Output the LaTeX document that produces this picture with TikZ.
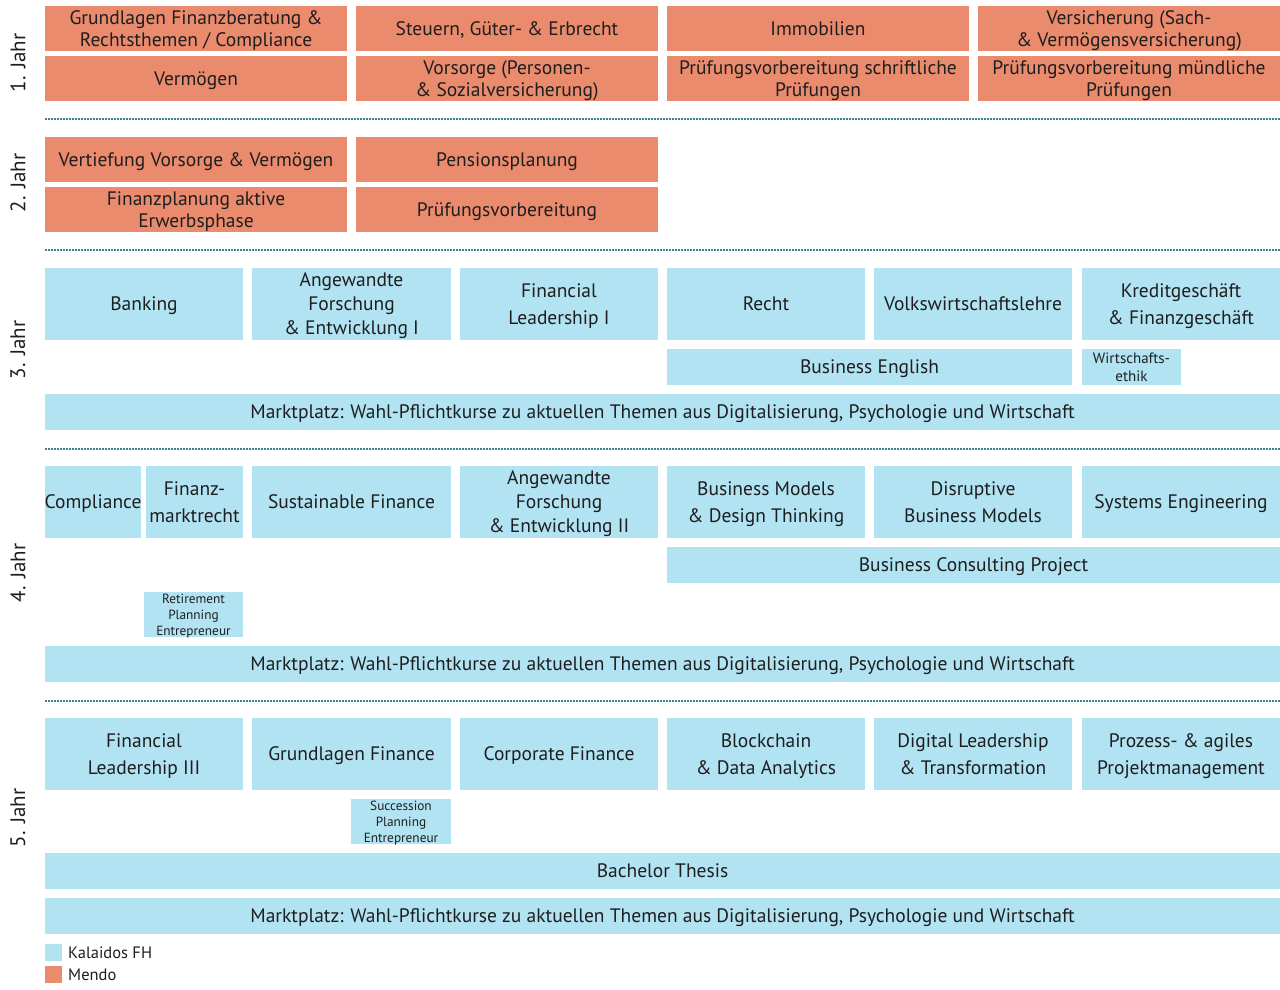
\documentclass[tikz,border=0pt]{standalone}
\usepackage{fontspec}
\setmainfont{PT Sans}
\definecolor{mendo}{HTML}{EB8B6E}
\definecolor{kal}{HTML}{B2E3F2}
\definecolor{dotc}{HTML}{3A8290}
\definecolor{txt}{HTML}{1E1E1E}
\tikzset{
  base/.style={inner sep=0pt, outer sep=0pt, align=center, text=txt, text depth=0pt},
  orange/.style={base, fill=mendo, font=\fontsize{19.5}{22.5}\selectfont},
  blue/.style={base, fill=kal, font=\fontsize{19.5}{26.5}\selectfont},
  bluethree/.style={base, fill=kal, font=\fontsize{19.5}{24}\selectfont},
  small/.style={base, fill=kal, font=\fontsize{13.3}{16}\selectfont},
  smalltwo/.style={base, fill=kal, font=\fontsize{15}{18}\selectfont},
  year/.style={rotate=90, text=txt, font=\fontsize{21}{22}\selectfont},
  sep/.style={dotc, line width=1.6pt, dash pattern=on 1.6pt off 1.4pt},
  legtext/.style={anchor=west, text=txt, inner sep=0pt, font=\fontsize{16.5}{18}\selectfont},
}
\newcommand\cbox[7]{\node[#6, minimum width={(#4-#2)*1pt}, minimum height={(#5-#3)*1pt}] (#1) at ({(#2+#4)/2},{(#3+#5)/2}) {#7};}
\begin{document}
\begin{tikzpicture}[x=1pt,y=-1pt]
\useasboundingbox (0,0) rectangle (1280,990);
% Year 1
\cbox{a1}{45}{6}{347}{51}{orange}{Grundlagen Finanzberatung \&\\Rechtsthemen / Compliance}
\cbox{a2}{356}{6}{658}{51}{orange}{Steuern, Güter- \& Erbrecht}
\cbox{a3}{667}{6}{969}{51}{orange}{Immobilien}
\cbox{a4}{978}{6}{1280}{51}{orange}{Versicherung (Sach-\\\& Vermögensversicherung)}
\cbox{b1}{45}{56}{347}{101}{orange}{Vermögen}
\cbox{b2}{356}{56}{658}{101}{orange}{Vorsorge (Personen-\\\& Sozialversicherung)}
\cbox{b3}{667}{56}{969}{101}{orange}{Prüfungsvorbereitung schriftliche\\Prüfungen}
\cbox{b4}{978}{56}{1280}{101}{orange}{Prüfungsvorbereitung mündliche\\Prüfungen}
\node[year] (y1) at (18,63) {1. Jahr};
\coordinate (s1a) at (45,119); \coordinate (s1b) at (1280,119);
\draw[sep] (s1a) -- (s1b);
% Year 2
\cbox{c1}{45}{137}{347}{182}{orange}{Vertiefung Vorsorge \& Vermögen}
\cbox{c2}{356}{137}{658}{182}{orange}{Pensionsplanung}
\cbox{d1}{45}{187}{347}{232}{orange}{Finanzplanung aktive\\Erwerbsphase}
\cbox{d2}{356}{187}{658}{232}{orange}{Prüfungsvorbereitung}
\node[year] (y2) at (18,183) {2. Jahr};
\coordinate (s2a) at (45,250); \coordinate (s2b) at (1280,250);
\draw[sep] (s2a) -- (s2b);
% Year 3
\cbox{e1}{45}{268}{243}{340}{blue}{Banking}
\cbox{e2}{252}{268}{451}{340}{bluethree}{Angewandte\\Forschung\\\& Entwicklung I}
\cbox{e3}{460}{268}{658}{340}{blue}{Financial\\Leadership I}
\cbox{e4}{667}{268}{865}{340}{blue}{Recht}
\cbox{e5}{874}{268}{1072}{340}{blue}{Volkswirtschaftslehre}
\cbox{e6}{1082}{268}{1280}{340}{blue}{Kreditgeschäft\\\& Finanzgeschäft}
\cbox{f1}{667}{349}{1072}{385}{blue}{Business English}
\cbox{f2}{1082}{349}{1181}{385}{smalltwo}{Wirtschafts-\\ethik}
\cbox{g1}{45}{394}{1280}{430}{blue}{Marktplatz: Wahl-Pflichtkurse zu aktuellen Themen aus Digitalisierung, Psychologie und Wirtschaft}
\node[year] (y3) at (18,350) {3. Jahr};
\coordinate (s3a) at (45,449); \coordinate (s3b) at (1280,449);
\draw[sep] (s3a) -- (s3b);
% Year 4
\cbox{h1}{45}{466}{141}{538}{blue}{Compliance}
\cbox{h2}{146}{466}{243}{538}{blue}{Finanz-\\marktrecht}
\cbox{h3}{252}{466}{451}{538}{blue}{Sustainable Finance}
\cbox{h4}{460}{466}{658}{538}{bluethree}{Angewandte\\Forschung\\\& Entwicklung II}
\cbox{h5}{667}{466}{865}{538}{blue}{Business Models\\\& Design Thinking}
\cbox{h6}{874}{466}{1072}{538}{blue}{Disruptive\\Business Models}
\cbox{h7}{1082}{466}{1280}{538}{blue}{Systems Engineering}
\cbox{i1}{667}{547}{1280}{583}{blue}{Business Consulting Project}
\cbox{i2}{144}{592}{243}{637}{small}{Retirement\\Planning\\Entrepreneur}
\cbox{j1}{45}{646}{1280}{682}{blue}{Marktplatz: Wahl-Pflichtkurse zu aktuellen Themen aus Digitalisierung, Psychologie und Wirtschaft}
\node[year] (y4) at (18,573) {4. Jahr};
\coordinate (s4a) at (45,701); \coordinate (s4b) at (1280,701);
\draw[sep] (s4a) -- (s4b);
% Year 5
\cbox{k1}{45}{718}{243}{790}{blue}{Financial\\Leadership III}
\cbox{k2}{252}{718}{451}{790}{blue}{Grundlagen Finance}
\cbox{k3}{460}{718}{658}{790}{blue}{Corporate Finance}
\cbox{k4}{667}{718}{865}{790}{blue}{Blockchain\\\& Data Analytics}
\cbox{k5}{874}{718}{1072}{790}{blue}{Digital Leadership\\\& Transformation}
\cbox{k6}{1082}{718}{1280}{790}{blue}{Prozess- \& agiles\\Projektmanagement}
\cbox{l1}{351}{799}{451}{844}{small}{Succession\\Planning\\Entrepreneur}
\cbox{m1}{45}{853}{1280}{889}{blue}{Bachelor Thesis}
\cbox{n1}{45}{898}{1280}{934}{blue}{Marktplatz: Wahl-Pflichtkurse zu aktuellen Themen aus Digitalisierung, Psychologie und Wirtschaft}
\node[year] (y5) at (18,818) {5. Jahr};
% Legend
\cbox{lk}{45}{944}{62}{961}{base,fill=kal}{}
\cbox{lm}{45}{966}{62}{983}{base,fill=mendo}{}
\node[legtext] (lkt) at (68,953) {Kalaidos FH};
\node[legtext] (lmt) at (68,975) {Mendo};
\end{tikzpicture}
\end{document}
